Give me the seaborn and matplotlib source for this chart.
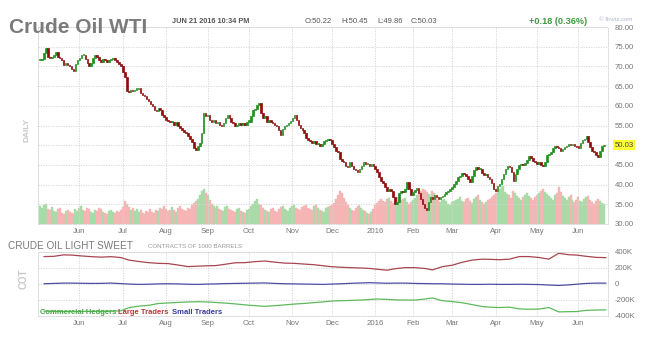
import numpy as np
import pandas as pd
import seaborn as sns
import matplotlib.pyplot as plt
import matplotlib.transforms as mtransforms

sns.set_style("white")
plt.rcParams['font.family'] = ['Liberation Sans', 'DejaVu Sans']

# trading calendar May 2015 - Jun 21 2016
holidays = ['2015-05-25', '2015-07-03', '2015-09-07', '2015-11-26', '2015-12-25',
            '2016-01-01', '2016-01-18', '2016-02-15', '2016-03-25', '2016-05-30']
days = pd.bdate_range('2015-05-01', '2016-06-21', freq='C', holidays=holidays)

# daily closes
close_may15 = [71.6, 72.0, 73.5, 74.6, 72.5, 72.2, 72.3, 73.0, 73.7, 72.5, 72.2, 71.5, 70.4, 70.8, 70.4,
               70.0, 69.3, 68.8, 70.5, 71.5]
close_jun15 = [72.2, 72.8, 73.0, 72.0, 70.8, 70.0, 70.8, 72.2, 73.0, 72.5, 71.5, 71.2, 71.8, 71.5, 71.0,
               71.5, 71.8, 72.2, 71.5, 71.0, 70.5, 70.0]
close_jul15 = [68.7, 67.4, 63.7, 63.5, 64.1, 63.7, 64.1, 64.3, 64.5, 63.2, 62.8, 62.4, 61.7, 61.3, 60.5,
               59.9, 59.0, 58.6, 59.4, 59.0, 57.7, 57.1]
close_aug15 = [56.5, 56.2, 55.8, 56.0, 55.2, 56.0, 54.9, 54.3, 53.8, 53.3, 53.1, 52.4, 51.6, 50.8, 49.3,
               48.8, 49.9, 50.6, 53.1, 58.1, 57.3]
close_sep15 = [57.7, 56.4, 56.0, 56.4, 55.6, 56.0, 55.2, 54.8, 55.6, 56.8, 57.7, 56.8, 56.0, 55.6, 54.8,
               55.2, 55.6, 55.2, 55.6, 55.2, 56.0]
close_oct15 = [56.0, 57.3, 58.9, 59.3, 60.2, 60.6, 58.1, 56.8, 57.3, 56.0, 56.4, 56.0, 55.6, 55.2, 54.8,
               53.9, 52.7, 54.2, 54.8, 55.2, 55.6, 56.2]
close_nov15 = [56.8, 57.7, 56.4, 55.2, 54.3, 53.9, 53.1, 51.8, 51.4, 51.0, 50.6, 51.0, 50.2, 50.3, 49.8,
               50.2, 51.0, 51.4, 51.4, 51.2]
close_dec15 = [50.3, 49.5, 48.6, 48.2, 46.5, 46.1, 45.7, 44.8, 44.4, 45.7, 44.8, 44.0, 43.6, 43.1, 44.0,
               44.8, 45.7, 45.3, 45.3, 44.8, 45.3, 44.6]
close_jan16 = [44.0, 43.1, 41.9, 41.0, 40.4, 39.3, 38.5, 38.7, 38.5, 36.8, 35.1, 35.6, 37.8, 38.3, 38.0,
               39.0, 40.6, 39.0, 37.4]
close_feb16 = [38.1, 38.6, 39.1, 37.9, 36.4, 35.1, 34.0, 33.6, 35.5, 36.8, 36.4, 37.4, 36.8, 36.4, 36.8,
               37.2, 37.6, 38.1, 38.5, 38.9]
close_mar16 = [39.3, 40.2, 41.0, 41.9, 42.3, 43.0, 42.7, 42.3, 41.3, 40.6, 42.3, 43.8, 44.4, 44.0, 44.0,
               43.0, 42.5, 42.7, 41.9, 41.4, 40.4]
close_apr16 = [38.9, 38.4, 39.7, 40.2, 41.3, 42.7, 44.0, 44.6, 44.5, 43.3, 41.0, 42.8, 44.0, 45.0, 45.3,
               44.9, 45.6, 46.3, 47.3, 46.8, 46.1]
close_may16 = [45.7, 45.3, 45.8, 45.0, 44.7, 45.8, 47.4, 47.8, 48.2, 49.2, 49.9, 49.5, 49.2, 48.6, 49.1,
               49.5, 49.9, 50.3, 50.1, 50.3, 49.9]
close_jun16 = [49.6, 49.4, 50.5, 51.2, 51.6, 52.3, 50.8, 49.5, 48.6, 48.2, 47.4, 47.0, 48.6, 49.85, 50.03]

# daily volume (thousand contracts)
vol_may15 = [540, 480, 570, 600, 450, 420, 510, 390, 360, 450, 480, 330, 300, 390, 420, 360, 330, 300, 450, 390]
vol_jun15 = [480, 540, 420, 390, 480, 450, 360, 330, 420, 390, 480, 450, 360, 330, 300, 390, 420, 360, 330,
             390, 360, 420]
vol_jul15 = [510, 690, 600, 510, 420, 480, 390, 450, 360, 420, 330, 300, 390, 360, 450, 360, 330, 420, 390,
             480, 450, 540]
vol_aug15 = [450, 390, 420, 510, 420, 360, 480, 540, 450, 420, 390, 480, 450, 570, 630, 690, 750, 870, 990,
             1050, 930]
vol_sep15 = [870, 720, 600, 540, 480, 540, 450, 420, 390, 510, 540, 450, 420, 390, 360, 450, 480, 390, 360,
             330, 420]
vol_oct15 = [450, 540, 600, 690, 750, 600, 570, 480, 420, 390, 360, 450, 480, 390, 360, 450, 510, 540, 450,
             420, 390, 480]
vol_nov15 = [540, 570, 480, 450, 420, 510, 540, 570, 480, 450, 420, 540, 570, 480, 420, 390, 360, 480, 510, 540]
vol_dec15 = [570, 630, 750, 870, 990, 930, 780, 660, 570, 480, 420, 390, 480, 540, 570, 480, 420, 390, 330,
             300, 360, 450]
vol_jan16 = [570, 630, 690, 750, 690, 660, 750, 780, 690, 630, 750, 810, 660, 720, 750, 780, 660, 600, 660]
vol_feb16 = [720, 780, 870, 930, 990, 1050, 1020, 960, 900, 840, 990, 930, 780, 720, 660, 720, 750, 690, 600, 570]
vol_mar16 = [660, 690, 720, 750, 810, 690, 660, 750, 780, 690, 630, 750, 810, 870, 720, 660, 600, 660, 720,
             750, 810]
vol_apr16 = [870, 930, 990, 1050, 1110, 1140, 960, 900, 870, 780, 990, 930, 840, 780, 720, 810, 870, 930, 840,
             780, 720]
vol_may16 = [810, 870, 930, 990, 1050, 960, 900, 840, 780, 720, 870, 930, 1110, 960, 840, 780, 720, 810, 870,
             720, 660]
vol_jun16 = [720, 810, 690, 660, 750, 810, 840, 720, 660, 600, 690, 750, 690, 630, 600]

# weekly COT net positions (thousand contracts)
cot_dates = pd.date_range('2015-05-05', '2016-06-21', freq='7D')
large_traders = [337, 340, 358, 356, 345, 336, 330, 336, 325, 294, 276, 262, 253, 250, 232, 213, 218, 223,
                 225, 242, 260, 262, 274, 282, 268, 256, 253, 244, 236, 222, 211, 204, 199, 195, 190, 180,
                 168, 186, 200, 200, 190, 172, 212, 230, 266, 293, 305, 303, 298, 305, 337, 337, 326, 305,
                 378, 360, 356, 340, 327, 324]
small_traders = [0, 4, 8, 8, 6, 4, 5, 8, 2, -4, -8, -6, -2, 0, -2, -6, -8, -4, -2, 2, 4, 6, 8, 10, 4, 0,
                 -2, -4, -6, -8, -4, 0, 6, 10, 13, 10, 6, 8, 8, 4, 2, 0, 0, -4, -6, -8, -8, -6, -8, -8,
                 -6, -8, -10, -16, -21, -14, -6, 4, 8, 8]
commercial_hedgers = [-340, -342, -345, -345, -343, -342, -342, -340, -336, -297, -278, -268, -245, -238,
                      -232, -226, -223, -226, -232, -240, -250, -262, -272, -280, -272, -262, -252, -244,
                      -234, -224, -214, -210, -206, -202, -196, -189, -194, -200, -202, -202, -190, -176,
                      -210, -222, -235, -258, -282, -290, -295, -290, -312, -316, -314, -295, -349, -346,
                      -345, -330, -326, -324]

month_labels = ['Jun', 'Jul', 'Aug', 'Sep', 'Oct', 'Nov', 'Dec', '2016', 'Feb', 'Mar', 'Apr', 'May', 'Jun']

close_px = np.array(close_may15 + close_jun15 + close_jul15 + close_aug15 + close_sep15 + close_oct15 +
                    close_nov15 + close_dec15 + close_jan16 + close_feb16 + close_mar16 + close_apr16 +
                    close_may16 + close_jun16)
volume = np.array(vol_may15 + vol_jun15 + vol_jul15 + vol_aug15 + vol_sep15 + vol_oct15 + vol_nov15 +
                  vol_dec15 + vol_jan16 + vol_feb16 + vol_mar16 + vol_apr16 + vol_may16 + vol_jun16)
n = min(len(days), len(close_px), len(volume))
close_px, volume = close_px[:n], volume[:n]
x = np.arange(n)
open_px = np.r_[close_px[0], close_px[:-1]]
up = close_px >= open_px

month_pos = [days.searchsorted(m) for m in pd.date_range('2015-06-01', '2016-06-01', freq='MS')]

GRID = '#d4d4d4'
TXT = '#7a7a7a'
W, H = 649, 354


def style_axes(ax):
    ax.set_xlim(-1, n + 1)
    ax.set_xticks(month_pos)
    ax.set_xticklabels(month_labels)
    ax.yaxis.tick_right()
    ax.tick_params(length=0, labelsize=5.6, colors='#777777', pad=3)
    ax.grid(True, color=GRID, linestyle=(0, (1.5, 1.5)), linewidth=0.6)
    for s in ax.spines.values():
        s.set_color(GRID)
        s.set_linestyle((0, (1.5, 1.5)))
        s.set_linewidth(0.6)


fig = plt.figure(figsize=(6.49, 3.54), dpi=100)

# price panel with volume underneath
ax = fig.add_axes([38 / W, 1 - 224 / H, 570 / W, 197 / H])
axv = ax.twinx()
vcol = np.where(up, '#a8dba8', '#f5b5b5')
axv.bar(x, volume, width=1.0, color=vcol, edgecolor=vcol, linewidth=0.3)
axv.set_ylim(0, 5900)
axv.axis('off')
ax.set_zorder(axv.get_zorder() + 1)
ax.patch.set_visible(False)

ccol = np.where(up, '#1f8f1f', '#8e0c0c')
body = np.maximum(np.abs(close_px - open_px), 0.3)
ax.bar(x, body, bottom=np.minimum(open_px, close_px), width=0.8,
       color=ccol, edgecolor=ccol, linewidth=0.5)
ax.set_ylim(30, 80)
yt = np.arange(30, 81, 5)
ax.set_yticks(yt)
ax.set_yticklabels(['' if v == 50 else f'{v:.2f}' for v in yt])
style_axes(ax)
ax.tick_params(axis='y', pad=5)

trans = mtransforms.blended_transform_factory(ax.transAxes, ax.transData)
ax.text(1.011, close_px[-1], f'{close_px[-1]:.2f}', transform=trans, va='center', ha='left',
        fontsize=5.6, color='#444444',
        bbox=dict(boxstyle='square,pad=0.15', fc='#ffff33', ec='none'))

# COT panel
cax = fig.add_axes([38 / W, 1 - 316 / H, 570 / W, 64.5 / H])
cot_x = days.get_indexer(cot_dates)
cot = pd.DataFrame({
    'x': np.tile(cot_x, 3),
    'net': np.r_[commercial_hedgers, large_traders, small_traders] * 1000,
    'group': np.repeat(['Commercial Hedgers', 'Large Traders', 'Small Traders'], len(cot_x)),
})
palette = {'Commercial Hedgers': '#5cba5c', 'Large Traders': '#a9454f', 'Small Traders': '#4d4da3'}
sns.lineplot(data=cot, x='x', y='net', hue='group', palette=palette, linewidth=0.9,
             legend=False, ax=cax)
cax.set_ylim(-400000, 400000)
cax.set_yticks([-400000, -200000, 0, 200000, 400000])
cax.set_yticklabels(['-400K', '-200K', '0', '200K', '400K'])
cax.set_xlabel('')
cax.set_ylabel('')
style_axes(cax)
cax.tick_params(axis='y', pad=5)


def ftext(px, py, s, **kw):
    fig.text(px / W, 1 - py / H, s, **kw)


# header
ftext(9, 33, 'Crude Oil WTI', fontsize=15, fontweight='bold', color='#7b7b7b', va='baseline')
ftext(172, 23, 'JUN 21 2016 10:34 PM', fontsize=5.3, fontweight='bold', color='#555555', va='baseline')
for px, s in [(305, 'O:50.22'), (341, 'H:50.45'), (377, 'L:49.86'), (411, 'C:50.03')]:
    ftext(px, 23, s, fontsize=5.5, color='#555555', va='baseline')
ftext(529, 24, '+0.18 (0.36%)', fontsize=6.6, fontweight='bold', color='#3c9c3c', va='baseline')
ftext(599, 21, '\u00a9 finviz.com', fontsize=4.4, color='#a9b3c6', va='baseline')
ftext(27, 130, 'DAILY', fontsize=6, fontweight='bold', color='#c9c9c9', rotation=90,
      ha='center', va='center')

# COT header and legend
ftext(8, 249, 'CRUDE OIL LIGHT SWEET', fontsize=7.2, color=TXT, va='baseline')
ftext(148, 248, 'CONTRACTS OF 1000 BARRELS', fontsize=4.4, color='#999999', va='baseline')
ftext(24, 279, 'COT', fontsize=7, fontweight='bold', color='#c9c9c9', rotation=90,
      ha='center', va='center')
ftext(40, 314, 'Commercial Hedgers', fontsize=5.5, fontweight='bold', color='#45aa45', va='baseline')
ftext(118, 314, 'Large Traders', fontsize=5.5, fontweight='bold', color='#b33a3a', va='baseline')
ftext(172, 314, 'Small Traders', fontsize=5.5, fontweight='bold', color='#3c3c9c', va='baseline')

fig.savefig('out.png', dpi=100)
